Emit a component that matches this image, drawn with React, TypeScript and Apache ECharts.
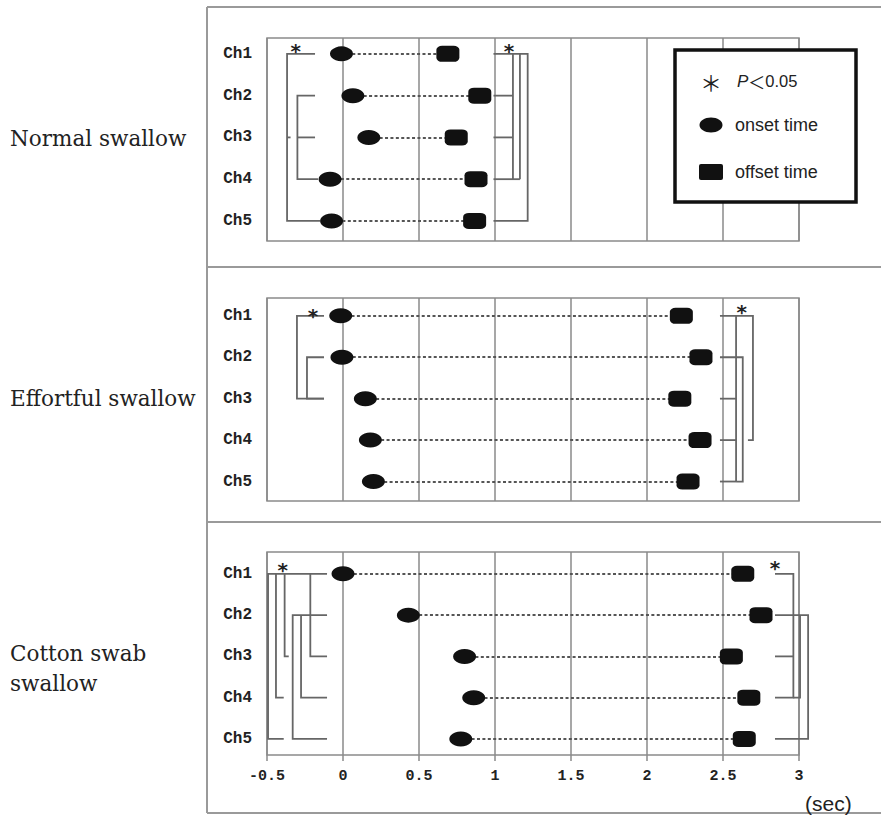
import React, { useEffect, useRef } from "react";
import * as echarts from "echarts";

const channels = ["Ch1", "Ch2", "Ch3", "Ch4", "Ch5"];
const rowValues = [1, 2, 3, 4, 5];
const xMin = -0.5;
const xMax = 3;
const xInterval = 0.5;
const panelTitles = [["Normal swallow"], ["Effortful swallow"], ["Cotton swab", "swallow"]];

// onset (ellipse) and offset (square) times, seconds, Ch1..Ch5
const normalOnset = [-0.01, 0.065, 0.17, -0.085, -0.075];
const normalOffset = [0.69, 0.9, 0.745, 0.875, 0.866];
const effortOnset = [-0.015, -0.007, 0.147, 0.18, 0.2];
const effortOffset = [2.226, 2.355, 2.216, 2.349, 2.27];
const cottonOnset = [0.0, 0.43, 0.8, 0.86, 0.775];
const cottonOffset = [2.63, 2.75, 2.555, 2.67, 2.64];

// significance brackets: polylines of [time, channel row]
const normalBrackets = [
  [[-0.184, 1], [-0.368, 1], [-0.368, 5], [-0.15, 5]],
  [[-0.184, 2], [-0.3, 2], [-0.3, 4], [-0.164, 4]],
  [[-0.3, 3], [-0.184, 3]],
  [[-0.366, 3], [-0.345, 3]],
  [[0.99, 1], [1.215, 1], [1.215, 5], [0.99, 5]],
  [[1.118, 1], [1.118, 4]],
  [[1.164, 1], [1.164, 4]],
  [[0.99, 2], [1.118, 2]],
  [[0.99, 3], [1.118, 3]],
  [[0.99, 4], [1.164, 4]],
];
const effortBrackets = [
  [[-0.125, 1], [-0.303, 1], [-0.303, 3], [-0.125, 3]],
  [[-0.125, 2], [-0.237, 2], [-0.237, 3], [-0.125, 3]],
  [[2.48, 1], [2.697, 1], [2.697, 4], [2.664, 4]],
  [[2.586, 1], [2.586, 5]],
  [[2.48, 2], [2.63, 2], [2.63, 5], [2.586, 5]],
  [[2.48, 3], [2.586, 3]],
  [[2.48, 4], [2.586, 4]],
  [[2.48, 5], [2.586, 5]],
];
const cottonBrackets = [
  [[-0.105, 1], [-0.493, 1], [-0.493, 5], [-0.39, 5]],
  [[-0.441, 1], [-0.441, 4], [-0.39, 4]],
  [[-0.384, 1], [-0.384, 3], [-0.357, 3]],
  [[-0.215, 1], [-0.215, 3], [-0.105, 3]],
  [[-0.105, 2], [-0.331, 2], [-0.331, 5], [-0.105, 5]],
  [[-0.276, 2], [-0.276, 4], [-0.105, 4]],
  [[2.842, 1], [2.963, 1], [2.963, 4], [2.842, 4]],
  [[2.842, 3], [2.963, 3]],
  [[2.842, 2], [3.06, 2], [3.06, 5], [2.842, 5]],
  [[2.963, 4], [3.007, 4], [3.007, 2]],
];
// asterisk positions [time, row]
const normalStars = [[-0.311, 0.82], [1.092, 0.82]];
const effortStars = [[-0.197, 0.88], [2.623, 0.78]];
const cottonStars = [[-0.397, 0.78], [2.842, 0.74]];

const panels = [
  { onset: normalOnset, offset: normalOffset, brackets: normalBrackets, stars: normalStars },
  { onset: effortOnset, offset: effortOffset, brackets: effortBrackets, stars: effortStars },
  { onset: cottonOnset, offset: cottonOffset, brackets: cottonBrackets, stars: cottonStars },
];

const gridTops = [38, 298, 552];
const yRanges = [
  [0.62, 5.48],
  [0.57, 5.47],
  [0.47, 5.39],
];
const titleY = [138, 398, 653];

export default function App() {
  const ref = useRef<HTMLDivElement>(null);
  useEffect(() => {
    if (!ref.current) return;
    const chart = echarts.init(ref.current, undefined, { renderer: "svg" });
    const gridColor = "#8a8a8a";
    const grids = gridTops.map((t) => ({
      left: 267,
      width: 532,
      top: t,
      height: 203,
      show: true,
      borderColor: gridColor,
      borderWidth: 1.5,
      backgroundColor: "transparent",
    }));
    const xAxes = gridTops.map((_, i) => ({
      type: "value",
      gridIndex: i,
      min: xMin,
      max: xMax,
      interval: xInterval,
      axisLine: { show: false },
      axisTick: { show: i === 2, length: 6, lineStyle: { color: gridColor, width: 1.5 } },
      axisLabel: {
        show: i === 2,
        margin: 14,
        color: "#222",
        fontFamily: "Liberation Mono",
        fontWeight: "bold",
        fontSize: 15,
        formatter: (v: number) => String(v),
      },
      splitLine: { show: true, lineStyle: { color: gridColor, width: 1.5 } },
    }));
    const yAxes = gridTops.map((_, i) => ({
      type: "value",
      gridIndex: i,
      inverse: true,
      min: yRanges[i][0],
      max: yRanges[i][1],
      axisLine: { show: false },
      axisTick: { show: false },
      splitLine: { show: false },
      axisLabel: {
        show: true,
        customValues: rowValues,
        margin: 15,
        color: "#222",
        fontFamily: "Liberation Mono",
        fontWeight: "bold",
        fontSize: 16,
        formatter: (v: number) => channels[Math.round(v) - 1] ?? "",
      },
    }));
    const series: any[] = [];
    panels.forEach((p, i) => {
      series.push({
        type: "lines",
        coordinateSystem: "cartesian2d",
        xAxisIndex: i,
        yAxisIndex: i,
        silent: true,
        z: 2,
        lineStyle: { color: "#555", width: 2, type: [3, 2.4], opacity: 1 },
        data: rowValues.map((r, k) => ({ coords: [[p.onset[k], r], [p.offset[k], r]] })),
      });
      series.push({
        type: "lines",
        coordinateSystem: "cartesian2d",
        xAxisIndex: i,
        yAxisIndex: i,
        polyline: true,
        clip: false,
        silent: true,
        z: 3,
        lineStyle: { color: "#666", width: 1.8, opacity: 1 },
        data: p.brackets.map((b) => ({ coords: b })),
      });
      series.push({
        type: "scatter",
        xAxisIndex: i,
        yAxisIndex: i,
        symbol: "circle",
        symbolSize: [23, 15],
        itemStyle: { color: "#111", opacity: 1 },
        z: 5,
        data: rowValues.map((r, k) => [p.onset[k], r]),
      });
      series.push({
        type: "scatter",
        xAxisIndex: i,
        yAxisIndex: i,
        symbol: "roundRect",
        symbolSize: [23, 16],
        itemStyle: { color: "#111", opacity: 1 },
        z: 5,
        data: rowValues.map((r, k) => [p.offset[k], r]),
      });
      series.push({
        type: "scatter",
        xAxisIndex: i,
        yAxisIndex: i,
        symbol: "circle",
        symbolSize: 1,
        clip: false,
        itemStyle: { color: "rgba(0,0,0,0)", opacity: 1 },
        z: 6,
        label: {
          show: true,
          position: "inside",
          formatter: "*",
          color: "#222",
          fontFamily: "DejaVu Sans",
          fontWeight: "bold",
          fontSize: 20,
          offset: [0, 5],
        },
        data: p.stars,
      });
    });

    const frameStroke = { stroke: "#9a9a9a", lineWidth: 2 };
    const graphic: any[] = [
      { type: "line", shape: { x1: 207, y1: 7, x2: 207, y2: 813 }, style: frameStroke, z: 1 },
      ...[7, 267, 522, 813].map((y) => ({
        type: "line",
        shape: { x1: 207, y1: y, x2: 881, y2: y },
        style: frameStroke,
        z: 1,
      })),
    ];
    panelTitles.forEach((lines, i) => {
      lines.forEach((t, j) => {
        graphic.push({
          type: "text",
          x: 10,
          y: titleY[i] + j * 30,
          style: {
            text: t,
            font: '21.5px "DejaVu Serif"',
            fill: "#222",
            verticalAlign: "middle",
          },
          z: 10,
        });
      });
    });
    graphic.push(
      {
        type: "rect",
        shape: { x: 675, y: 50, width: 181, height: 152 },
        style: { fill: "#fff", stroke: "#111", lineWidth: 3.5 },
        z: 100,
      },
      {
        type: "text",
        x: 700,
        y: 81,
        style: { text: "＊", font: '22px "Noto Sans CJK JP"', fill: "#222", verticalAlign: "middle" },
        z: 101,
      },
      {
        type: "text",
        x: 737,
        y: 81,
        style: {
          text: "{p|P}{lt|＜}{n|0.05}",
          fill: "#222",
          verticalAlign: "middle",
          rich: {
            p: { font: 'italic 17px "Liberation Sans"', fill: "#222" },
            lt: { font: '17px "Noto Sans CJK JP"', fill: "#222" },
            n: { font: '16.5px "Liberation Sans"', fill: "#222" },
          },
        },
        z: 101,
      },
      {
        type: "ellipse",
        shape: { cx: 711, cy: 125, rx: 11.5, ry: 7.5 },
        style: { fill: "#111" },
        z: 101,
      },
      {
        type: "text",
        x: 735,
        y: 125,
        style: { text: "onset time", font: '18px "Liberation Sans"', fill: "#222", verticalAlign: "middle" },
        z: 101,
      },
      {
        type: "rect",
        shape: { x: 699, y: 164, width: 24, height: 16, r: 2 },
        style: { fill: "#111" },
        z: 101,
      },
      {
        type: "text",
        x: 735,
        y: 172,
        style: { text: "offset time", font: '18px "Liberation Sans"', fill: "#222", verticalAlign: "middle" },
        z: 101,
      },
      {
        type: "text",
        x: 805,
        y: 803,
        style: { text: "(sec)", font: '21px "Liberation Sans"', fill: "#222", verticalAlign: "middle" },
        z: 101,
      }
    );

    chart.setOption({
      animation: false,
      backgroundColor: "#fff",
      grid: grids,
      xAxis: xAxes,
      yAxis: yAxes,
      series,
      graphic,
    });
    return () => chart.dispose();
  }, []);
  return (
    <div
      ref={ref}
      style={{ position: "absolute", left: 0, top: 0, width: 881, height: 816 }}
    />
  );
}
